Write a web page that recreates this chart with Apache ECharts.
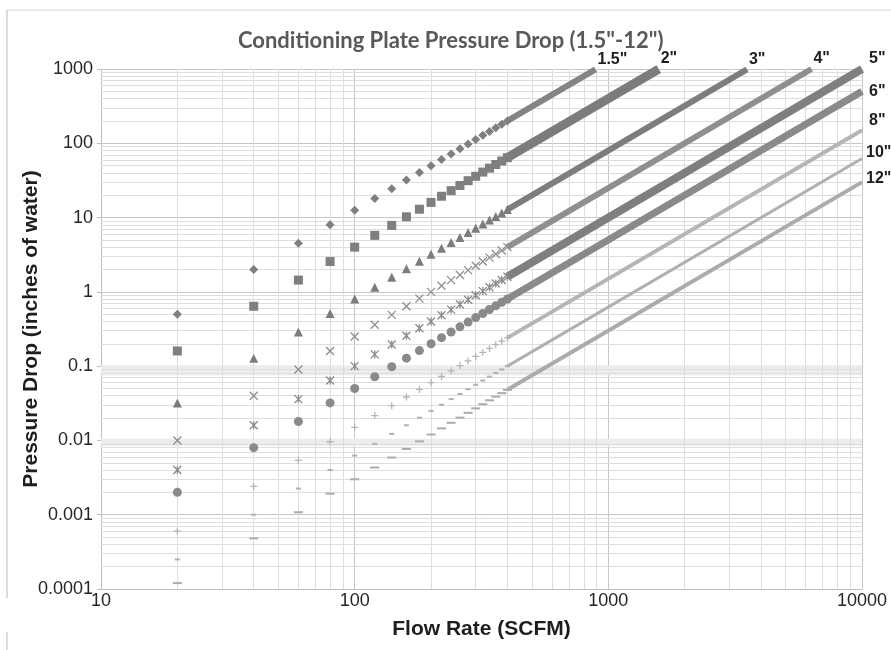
<!DOCTYPE html>
<html>
<head>
<meta charset="utf-8">
<title>Conditioning Plate Pressure Drop</title>
<script src="https://cdn.jsdelivr.net/npm/echarts@6/dist/echarts.min.js"></script>
<style>
  html, body { margin: 0; padding: 0; background: #fff; }
  #chart { width: 891px; height: 650px; }
</style>
</head>
<body>
<div id="chart"></div>
<script>
// flow rates (SCFM) of the separately visible markers
var flowRates = [20, 40, 60, 80, 100, 120, 140, 160, 180, 200, 220, 240, 260, 280, 300, 320, 340, 360, 380, 400];

var pipeSizes = ['1.5"', '2"', '3"', '4"', '5"', '6"', '8"', '10"', '12"'];

// pressure drop (inches of water) at each of the flow rates above
var drop15 = [0.5, 2, 4.5, 8, 12.5, 18, 24.5, 32, 40.5, 50, 60.5, 72, 84.5, 98, 112.5, 128, 144.5, 162, 180.5, 200];
var drop2 = [0.16, 0.64, 1.44, 2.56, 4, 5.76, 7.84, 10.24, 12.96, 16, 19.36, 23.04, 27.04, 31.36, 36, 40.96, 46.24, 51.84, 57.76, 64];
var drop3 = [0.032, 0.128, 0.288, 0.512, 0.8, 1.152, 1.568, 2.048, 2.592, 3.2, 3.872, 4.608, 5.408, 6.272, 7.2, 8.192, 9.248, 10.368, 11.552, 12.8];
var drop4 = [0.01, 0.04, 0.09, 0.16, 0.25, 0.36, 0.49, 0.64, 0.81, 1, 1.21, 1.44, 1.69, 1.96, 2.25, 2.56, 2.89, 3.24, 3.61, 4];
var drop5 = [0.004, 0.016, 0.036, 0.064, 0.1, 0.144, 0.196, 0.256, 0.324, 0.4, 0.484, 0.576, 0.676, 0.784, 0.9, 1.024, 1.156, 1.296, 1.444, 1.6];
var drop6 = [0.002, 0.008, 0.018, 0.032, 0.05, 0.072, 0.098, 0.128, 0.162, 0.2, 0.242, 0.288, 0.338, 0.392, 0.45, 0.512, 0.578, 0.648, 0.722, 0.8];
var drop8 = [0.0006, 0.0024, 0.0054, 0.0096, 0.015, 0.0216, 0.0294, 0.0384, 0.0486, 0.06, 0.0726, 0.0864, 0.1014, 0.1176, 0.135, 0.1536, 0.1734, 0.1944, 0.2166, 0.24];
var drop10 = [0.00025, 0.001, 0.00225, 0.004, 0.00625, 0.009, 0.01225, 0.016, 0.02025, 0.025, 0.03025, 0.036, 0.04225, 0.049, 0.05625, 0.064, 0.07225, 0.081, 0.09025, 0.1];
var drop12 = [0.00012, 0.00048, 0.00108, 0.00192, 0.003, 0.00432, 0.00588, 0.00768, 0.00972, 0.012, 0.01452, 0.01728, 0.02028, 0.02352, 0.027, 0.03072, 0.03468, 0.03888, 0.04332, 0.048];
var drops = [drop15, drop2, drop3, drop4, drop5, drop6, drop8, drop10, drop12];

// last point of each curve, where the markers have merged into a solid band
var endFlow = [890, 1580, 3520, 6320, 10000, 10000, 10000, 10000, 10000];
var endDrop = [990, 999, 991, 999, 1000, 500, 150, 62.5, 30];

var xTickLabels = ['10', '100', '1000', '10000'];
var yTickLabels = ['0.0001', '0.001', '0.01', '0.1', '1', '10', '100', '1000'];
var xDecades = [10, 100, 1000];
var yDecades = [0.0001, 0.001, 0.01, 0.1, 1, 10, 100];
var minorSteps = [2, 3, 4, 5, 6, 7, 8, 9];
var xRange = [10, 10000];
var yRange = [0.0001, 1000];

// look of each pipe size
var crossPath = 'path://M0,0L10,10M10,0L0,10';
var starPath = 'path://M0,0L10,10M10,0L0,10M5,0L5,10';
var plusPath = 'path://M5,0L5,10M0,5L10,5';
var symbols = ['diamond', 'rect', 'triangle', crossPath, starPath, 'circle', plusPath, 'rect', 'rect'];
var symbolSizes = [9, 9, 9, 8, 8, 9, 7, [5, 2], [9, 2]];
var markerColors = ['#7f7f7f', '#7f7f7f', '#7c7c7c', '#8e8e8e', '#8a8a8a', '#8a8a8a', '#b5b5b5', '#b0b0b0', '#ababab'];
var bandColors = ['#848484', '#7c7c7c', '#7d7d7d', '#8f8f8f', '#7f7f7f', '#8a8a8a', '#b5b5b5', '#b0b0b0', '#ababab'];
var bandWidths = [6, 9, 6, 6, 8, 7, 4, 3, 4];
var labelOffsets = [[0, -10], [0, -10], [0, -10], [0, -10], [0, -10], [0, 0], [0, -10], [0, -6], [0, -4]];
var labelGaps = [2, 2, 2, 2, 7, 7, 7, 4, 4];

var myChart = echarts.init(document.getElementById('chart'));

function hLine(y) {
  return [{ coord: [xRange[0], y] }, { coord: [xRange[1], y] }];
}
function vLine(x) {
  return [{ coord: [x, yRange[0]] }, { coord: [x, yRange[1]] }];
}

var gridLines = [];
yDecades.forEach(function (d) {
  minorSteps.forEach(function (m) { gridLines.push(hLine(d * m)); });
});
xDecades.forEach(function (d) {
  minorSteps.forEach(function (m) { gridLines.push(vLine(d * m)); });
});

var series = [{
  // holder for the minor grid
  type: 'line',
  data: [[10, 0.0001]],
  showSymbol: false,
  lineStyle: { width: 0 },
  silent: true,
  z: 1,
  markLine: {
    silent: true,
    z: 1,
    symbol: 'none',
    animation: false,
    label: { show: false },
    lineStyle: { color: '#dedede', width: 1, type: 'solid' },
    data: gridLines
  }
}];

// pale bands seen around 0.1 and 0.01
[[0.0883, 10], [0.00944, 7]].forEach(function (b) {
  series.push({
    type: 'line',
    data: [[xRange[0], b[0]], [xRange[1], b[0]]],
    showSymbol: false,
    silent: true,
    z: 0,
    lineStyle: { color: '#ececec', width: b[1] }
  });
});

pipeSizes.forEach(function (name, i) {
  var pts = flowRates.map(function (q, j) { return [q, drops[i][j]]; });
  var isPath = symbols[i].indexOf('path://') === 0;
  series.push({
    name: name,
    type: 'scatter',
    data: pts,
    symbol: symbols[i],
    symbolSize: symbolSizes[i],
    itemStyle: isPath
      ? { color: markerColors[i], borderColor: markerColors[i], borderWidth: 1.3, opacity: 1 }
      : { color: markerColors[i], opacity: 1 },
    z: 3
  });
  series.push({
    name: name + ' band',
    type: 'line',
    data: [pts[pts.length - 1], [endFlow[i], endDrop[i]]],
    showSymbol: false,
    symbol: 'none',
    clip: false,
    lineStyle: { color: bandColors[i], width: bandWidths[i] },
    endLabel: {
      show: true,
      formatter: name,
      distance: labelGaps[i],
      offset: labelOffsets[i],
      fontFamily: 'Liberation Sans',
      fontWeight: 'bold',
      fontSize: 16,
      color: '#1e1e1e'
    },
    z: 3
  });
});

myChart.setOption({
  animation: false,
  title: {
    text: 'Conditioning Plate Pressure Drop (1.5"-12")',
    left: 233,
    top: 25,
    textStyle: { fontFamily: 'Lato', fontWeight: 'bold', fontSize: 22, color: '#595959' }
  },
  graphic: [
    { type: 'line', shape: { x1: 7, y1: 10, x2: 891, y2: 10 }, style: { stroke: '#d6d6d6', lineWidth: 1 } },
    { type: 'line', shape: { x1: 7, y1: 10, x2: 7, y2: 598 }, style: { stroke: '#d0d0d0', lineWidth: 1.5 } },
    { type: 'line', shape: { x1: 7, y1: 632, x2: 7, y2: 650 }, style: { stroke: '#d0d0d0', lineWidth: 1.5 } }
  ],
  grid: { left: 101, right: 29, top: 69, bottom: 61 },
  xAxis: {
    type: 'log',
    logBase: 10,
    min: xRange[0],
    max: xRange[1],
    name: 'Flow Rate (SCFM)',
    nameLocation: 'middle',
    nameGap: 30,
    nameMoveOverlap: false,
    nameTextStyle: { fontFamily: 'Liberation Sans', fontWeight: 'bold', fontSize: 21, color: '#1e1e1e' },
    axisLine: { show: true, lineStyle: { color: '#bfbfbf' } },
    axisTick: { show: false },
    axisLabel: {
      fontFamily: 'Liberation Sans', fontSize: 18, color: '#262626', margin: 3,
      formatter: function (v) { return xTickLabels[Math.round(Math.log10(v)) - 1]; }
    },
    splitLine: { show: true, lineStyle: { color: '#c6c6c6' } }
  },
  yAxis: {
    type: 'log',
    logBase: 10,
    min: yRange[0],
    max: yRange[1],
    name: 'Pressure Drop (inches of water)',
    nameLocation: 'middle',
    nameGap: 59,
    nameMoveOverlap: false,
    nameTextStyle: { fontFamily: 'Liberation Sans', fontWeight: 'bold', fontSize: 21, color: '#1e1e1e' },
    axisLine: { show: true, lineStyle: { color: '#bfbfbf' } },
    axisTick: { show: true, length: 4, lineStyle: { color: '#bfbfbf' } },
    axisLabel: {
      fontFamily: 'Liberation Sans', fontSize: 18, color: '#262626', margin: 8,
      formatter: function (v) { return yTickLabels[Math.round(Math.log10(v)) + 4]; }
    },
    splitLine: { show: true, lineStyle: { color: '#c6c6c6' } }
  },
  series: series
});
</script>
</body>
</html>
